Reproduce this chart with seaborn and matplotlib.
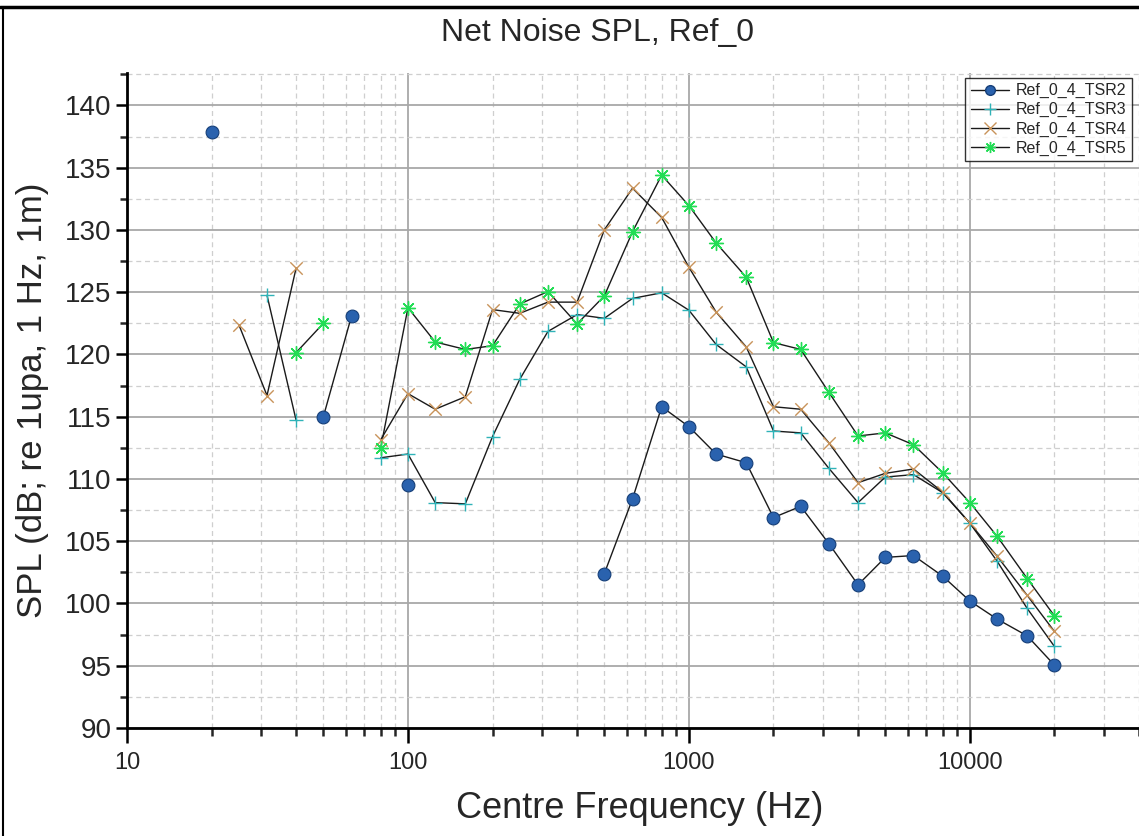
import numpy as np
import pandas as pd
import matplotlib
matplotlib.use("Agg")
import matplotlib.pyplot as plt
import seaborn as sns
from matplotlib.lines import Line2D
from matplotlib.ticker import LogLocator, FixedLocator, MultipleLocator, NullFormatter, FuncFormatter

nan = np.nan

freqs = [20, 25, 31.5, 40, 50, 63, 80, 100, 125, 160, 200, 250, 315, 400, 500, 630,
         800, 1000, 1250, 1600, 2000, 2500, 3150, 4000, 5000, 6300, 8000, 10000,
         12500, 16000, 20000]

tsr2 = [137.9, nan, nan, nan, 115.0, 123.1, nan, 109.5, nan, nan, nan, nan, nan, nan,
        102.4, 108.4, 115.8, 114.2, 112.0, 111.3, 106.9, 107.8, 104.8, 101.5, 103.7,
        103.85, 102.2, 100.2, 98.75, 97.4, 95.05]
tsr3 = [nan, nan, 124.75, 114.7, nan, nan, 111.7, 112.0, 108.1, 108.0, 113.4, 118.0,
        121.85, 123.2, 122.9, 124.5, 124.95, 123.55, 120.8, 119.0, 113.85, 113.7,
        110.85, 108.1, 110.15, 110.35, 108.9, 106.45, 103.4, 99.6, 96.55]
tsr4 = [nan, 122.4, 116.7, 126.95, nan, nan, 113.15, 116.85, 115.6, 116.6, 123.6,
        123.3, 124.2, 124.2, 130.0, 133.35, 131.0, 127.0, 123.4, 120.6, 115.8, 115.6,
        112.9, 109.7, 110.45, 110.8, 108.95, 106.45, 103.8, 100.65, 97.75]
tsr5 = [nan, nan, nan, 120.15, 122.5, nan, 112.5, 123.75, 121.0, 120.4, 120.7, 124.05,
        125.05, 122.45, 124.7, 129.85, 134.4, 131.95, 128.95, 126.2, 120.95, 120.4,
        116.95, 113.45, 113.7, 112.75, 110.5, 108.1, 105.4, 102.0, 99.0]

series_names = ["Ref_0_4_TSR2", "Ref_0_4_TSR3", "Ref_0_4_TSR4", "Ref_0_4_TSR5"]
series_values = [tsr2, tsr3, tsr4, tsr5]

title = "Net Noise SPL, Ref_0"
xlabel = "Centre Frequency (Hz)"
ylabel = "SPL (dB; re 1upa, 1 Hz, 1m)"
xtick_values = [10, 100, 1000, 10000]
ytick_values = [90, 95, 100, 105, 110, 115, 120, 125, 130, 135, 140]

# styles
marker_styles = {
    "Ref_0_4_TSR2": dict(marker="o", color="#2a62ae", edge="#163f78", size=85, lw=0.8),
    "Ref_0_4_TSR3": dict(marker="+", color="#2fb3b8", edge="#2fb3b8", size=90, lw=1.0),
    "Ref_0_4_TSR4": dict(marker="x", color="#c8935a", edge="#c8935a", size=80, lw=1.0),
    "Ref_0_4_TSR5": dict(marker=(8, 2, 0), color="#22dd55", edge="#22dd55", size=100, lw=1.0),
}

# long-form table with segment ids (lines break at missing values)
rows = []
for name, vals in zip(series_names, series_values):
    seg = 0
    prev_nan = True
    for f, v in zip(freqs, vals):
        if np.isnan(v):
            prev_nan = True
            continue
        if prev_nan:
            seg += 1
        prev_nan = False
        rows.append(dict(series=name, freq=f, spl=v, seg=f"{name}_{seg}"))
df = pd.DataFrame(rows)

sns.set_theme(style="white")
plt.rcParams["font.family"] = ["Liberation Sans", "DejaVu Sans"]

fig = plt.figure(figsize=(11.39, 8.36), dpi=100)
fig.patch.set_facecolor("white")
ax = fig.add_axes([127 / 1139, 1 - 728 / 836, 1 - 127 / 1139, (728 - 73) / 836])

ax.set_xscale("log")
ax.set_xlim(10, 40000)
ax.set_ylim(90, 142.6)

# grid
ax.yaxis.set_major_locator(FixedLocator(ytick_values))
ax.yaxis.set_minor_locator(MultipleLocator(2.5))
ax.xaxis.set_major_locator(FixedLocator(xtick_values))
ax.xaxis.set_minor_locator(LogLocator(base=10, subs=np.arange(2, 10), numticks=20))
ax.xaxis.set_minor_formatter(NullFormatter())
ax.xaxis.set_major_formatter(FuncFormatter(lambda v, p: f"{int(round(v))}"))
ax.grid(True, which="major", color="#a8a8a8", lw=1.3, ls="-", zorder=0)
ax.grid(True, which="minor", color="#cfcfcf", lw=0.9, ls=(0, (4, 3)), zorder=0)
ax.set_axisbelow(True)

# lines
for name in series_names:
    sub = df[df.series == name]
    sns.lineplot(data=sub, x="freq", y="spl", units="seg", estimator=None, sort=False,
                 color="#1a1a1a", lw=1.0, ax=ax, legend=False, zorder=2)

# markers
for name in series_names:
    sub = df[df.series == name]
    st = marker_styles[name]
    if st["marker"] == "o":
        sns.scatterplot(data=sub, x="freq", y="spl", marker="o", s=st["size"],
                        color=st["color"], edgecolor=st["edge"], linewidth=st["lw"],
                        ax=ax, legend=False, zorder=3)
    else:
        sns.scatterplot(data=sub, x="freq", y="spl", marker=st["marker"], s=st["size"],
                        color=st["color"], linewidth=st["lw"], ax=ax, legend=False, zorder=3)

# spines & ticks
for side in ["top", "right"]:
    ax.spines[side].set_visible(False)
for side in ["left", "bottom"]:
    ax.spines[side].set_visible(True)
    ax.spines[side].set_color("black")
    ax.spines[side].set_linewidth(2.0)
ax.tick_params(axis="y", which="major", direction="out", length=8, width=1.8,
               labelsize=20, color="black", pad=3, left=True)
ax.tick_params(axis="y", which="minor", direction="out", length=5, width=1.8, left=True)
ax.tick_params(axis="x", which="major", direction="out", length=11, width=1.8,
               labelsize=17, color="black", pad=6, bottom=True)
ax.tick_params(axis="x", which="minor", direction="out", length=6, width=1.8, bottom=True)
ax.set_xlabel("")
ax.set_ylabel("")

# labels
fig.text(597 / 1139, 1 - 33 / 836, title, ha="center", va="center", fontsize=23)
fig.text(640 / 1139, 1 - 808 / 836, xlabel, ha="center", va="center", fontsize=26)
fig.text(33 / 1139, 1 - 400 / 836, ylabel, ha="center", va="center", fontsize=25,
         rotation=90)

# legend
handles = []
for name in series_names:
    st = marker_styles[name]
    ms = 7 if st["marker"] == "o" else 8
    handles.append(Line2D([0], [0], color="#1a1a1a", lw=1.0, marker=st["marker"],
                          markersize=ms, markerfacecolor=st["color"],
                          markeredgecolor=st["edge"], markeredgewidth=1.0))
leg = ax.legend(handles, series_names, loc="upper right", bbox_to_anchor=(0.993, 0.993),
                fontsize=11.5, frameon=True, fancybox=False, handlelength=2.4,
                labelspacing=0.25, borderpad=0.35, handletextpad=0.4, borderaxespad=0)
leg.get_frame().set_edgecolor("black")
leg.get_frame().set_linewidth(1.0)

# figure frame
fig.add_artist(Line2D([0, 1], [1 - 7 / 836, 1 - 7 / 836], transform=fig.transFigure,
                      color="black", lw=2.5))
fig.add_artist(Line2D([3 / 1139, 3 / 1139], [0, 1 - 7 / 836], transform=fig.transFigure,
                      color="black", lw=1.5))

fig.savefig("out.png", dpi=100, facecolor="white")
